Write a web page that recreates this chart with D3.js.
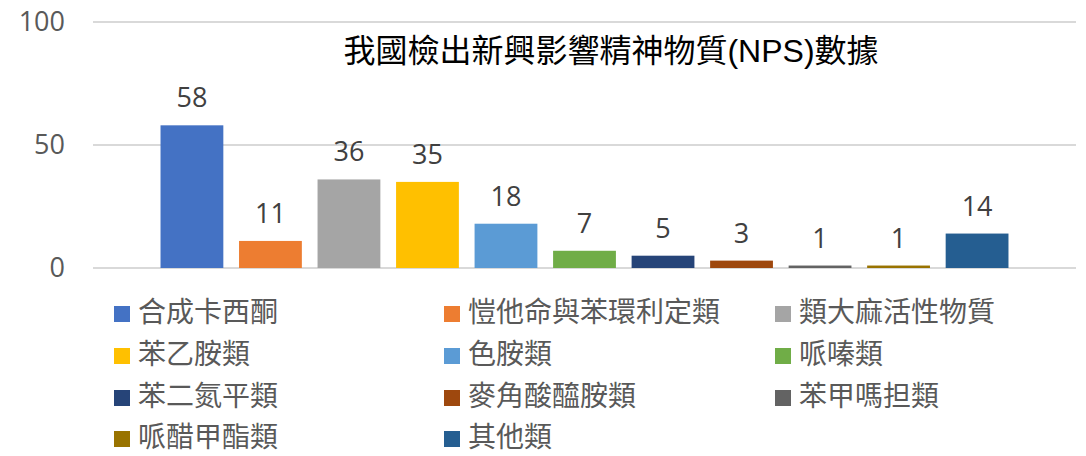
<!DOCTYPE html>
<meta charset="utf-8">
<head>
<style>
body { margin: 0; background: #fff; }
svg { display: block; }
.tick-label { font: 27px "Open Sans", "Noto Sans", sans-serif; fill: #595959; }
.value-label { font: 27px "Open Sans", "Noto Sans", sans-serif; fill: #404040; }
.legend-label { font: 28px "Noto Sans CJK TC", sans-serif; fill: #595959; }
.title { font: 32px "Liberation Sans", "Noto Sans CJK TC", sans-serif; fill: #000; }
</style>
</head>
<body>
<script src="https://d3js.org/d3.v7.min.js"></script>
<script>
// data
var categories = ["合成卡西酮", "愷他命與苯環利定類", "類大麻活性物質", "苯乙胺類", "色胺類", "哌嗪類",
                  "苯二氮平類", "麥角酸醯胺類", "苯甲嗎担類", "哌醋甲酯類", "其他類"];
var counts = [58, 11, 36, 35, 18, 7, 5, 3, 1, 1, 14];
var colors = ["#4472C4", "#ED7D31", "#A5A5A5", "#FFC000", "#5B9BD5", "#70AD47",
              "#264478", "#9E480E", "#636363", "#997300", "#255E91"];
var yTicks = [0, 50, 100];
var title = "我國檢出新興影響精神物質(NPS)數據";

var W = 1086, H = 456;
var plot = { left: 93, right: 1076, top: 22, bottom: 268 };

var svg = d3.select("body").append("svg")
    .attr("width", W)
    .attr("height", H);

var x = d3.scaleBand()
    .domain(categories)
    .range([plot.left, plot.right])
    .paddingInner(0.2)
    .paddingOuter(0.86);

var y = d3.scaleLinear()
    .domain([0, 100])
    .range([plot.bottom, plot.top]);

// gridlines
svg.append("g").selectAll("line")
    .data(yTicks)
    .enter().append("line")
    .attr("x1", plot.left)
    .attr("x2", plot.right)
    .attr("y1", function(d) { return y(d); })
    .attr("y2", function(d) { return y(d); })
    .attr("stroke", "#d9d9d9")
    .attr("stroke-width", 2);

// y tick labels
svg.append("g").selectAll("text")
    .data(yTicks)
    .enter().append("text")
    .attr("class", "tick-label")
    .attr("x", 65)
    .attr("y", function(d) { return y(d); })
    .attr("dy", "0.35em")
    .attr("text-anchor", "end")
    .text(function(d) { return d; });

// title
svg.append("text")
    .attr("class", "title")
    .attr("x", 611)
    .attr("y", 62)
    .attr("text-anchor", "middle")
    .text(title);

// bars
svg.append("g").selectAll("rect")
    .data(counts)
    .enter().append("rect")
    .attr("x", function(d, i) { return x(categories[i]); })
    .attr("width", x.bandwidth())
    .attr("y", function(d) { return y(d); })
    .attr("height", function(d) { return y(0) - y(d); })
    .attr("fill", function(d, i) { return colors[i]; });

// value labels
svg.append("g").selectAll("text")
    .data(counts)
    .enter().append("text")
    .attr("class", "value-label")
    .attr("x", function(d, i) { return x(categories[i]) + x.bandwidth() / 2; })
    .attr("y", function(d) { return y(d) - 18; })
    .attr("text-anchor", "middle")
    .text(function(d) { return d; });

// legend, 3 columns
var legendX = [114, 444, 775];
var legendY = [314, 356, 398, 439];
var legend = svg.append("g").selectAll("g")
    .data(categories)
    .enter().append("g")
    .attr("transform", function(d, i) {
        return "translate(" + legendX[i % 3] + "," + legendY[Math.floor(i / 3)] + ")";
    });

legend.append("rect")
    .attr("x", 0)
    .attr("y", -8)
    .attr("width", 16)
    .attr("height", 16)
    .attr("fill", function(d, i) { return colors[i]; });

legend.append("text")
    .attr("class", "legend-label")
    .attr("x", 24)
    .attr("y", 0)
    .attr("dy", "0.3em")
    .text(function(d) { return d; });
</script>
</body>
